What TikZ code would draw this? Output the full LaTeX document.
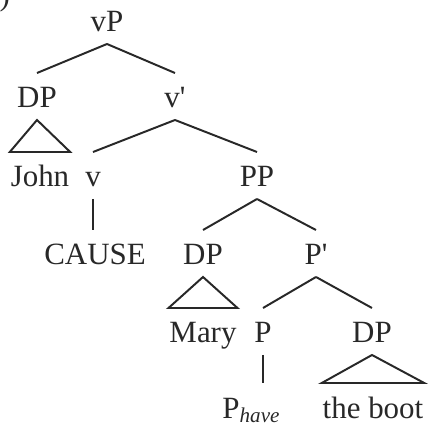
\documentclass[tikz,border=0pt]{standalone}
\usepackage{fontspec}
\setmainfont{Liberation Serif}
\usetikzlibrary{positioning}
\definecolor{ink}{RGB}{40,40,40}

\begin{document}
\begin{tikzpicture}[x=0.025cm,y=-0.025cm,color=ink,line width=1.4pt,
    every node/.style={font=\fontsize{22}{26}\selectfont,anchor=base,inner xsep=0pt,inner ysep=0.175cm,text height=0.675cm,text depth=0.1cm}]
    \useasboundingbox (0,0) rectangle (428,426);
    \node[anchor=base east,inner sep=0pt] (tag) at (11,6) {)};
    % labels, row by row
    \node (vP) at (107,32) {vP};
    \node (DPa) at (37,108) {DP};
    \node (vbar) at (175,108) {v\textquotesingle};
    \node (John) at (40,187) {John};
    \node (v) at (93,187) {v};
    \node (PP) at (257,187) {PP};
    \node (CAUSE) at (95,265) {CAUSE};
    \node (DPb) at (203,265) {DP};
    \node (Pbar) at (316,265) {P\textquotesingle};
    \node (Mary) at (203,343) {Mary};
    \node (P) at (263,343) {P};
    \node (DPc) at (372,343) {DP};
    \node (Phave) at (251,418) {P\raisebox{-0.35ex}{\fontsize{15}{15}\selectfont\itshape have}};
    \node (boot) at (373,418) {the boot};
    % branches
    \draw (vP.south) -- (DPa.north);
    \draw (vP.south) -- (vbar.north);
    \draw (vbar.south) -- (v.north);
    \draw (vbar.south) -- (PP.north);
    \draw (v.south) -- (v.south |- CAUSE.north);
    \draw (PP.south) -- (DPb.north);
    \draw (PP.south) -- (Pbar.north);
    \draw (Pbar.south) -- (P.north);
    \draw (Pbar.south) -- (DPc.north);
    \draw (P.south) -- (P.south |- Phave.north);
    % triangles
    \draw (DPa.south) -- (John.north west) -- (John.north east) -- cycle;
    \draw (DPb.south) -- (Mary.north west) -- (Mary.north east) -- cycle;
    \draw (DPc.south) -- (boot.north west) -- (boot.north east) -- cycle;
\end{tikzpicture}
\end{document}
